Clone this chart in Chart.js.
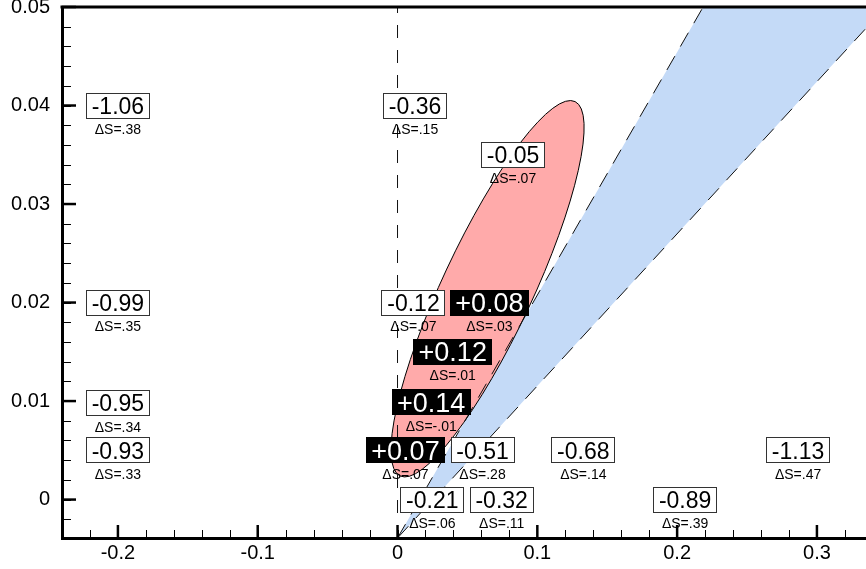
<!DOCTYPE html>
<html>
<head>
<meta charset="utf-8">
<script src="https://cdn.jsdelivr.net/npm/chart.js@4/dist/chart.umd.min.js"></script>
<style>
  html, body { margin: 0; padding: 0; background: #fff; }
  #wrap { width: 866px; height: 569px; }
</style>
</head>
<body>
<div id="wrap"><canvas id="c" width="866" height="569"></canvas></div>
<script>
// Axis ticks
const xTickValues = [-0.2, -0.1, 0, 0.1, 0.2, 0.3];
const xTickLabels = ['-0.2', '-0.1', '0', '0.1', '0.2', '0.3'];
const yTickValues = [0, 0.01, 0.02, 0.03, 0.04, 0.05];
const yTickLabels = ['0', '0.01', '0.02', '0.03', '0.04', '0.05'];

// Labelled grid points: position, energy change and entropy change
const pointX = [-0.2, 0.0125, 0.0826, -0.2, 0.0114, 0.0657, 0.0395, 0.0241, -0.2, -0.2, 0.0057, 0.0608, 0.1329, 0.2865, 0.0249, 0.0745, 0.2057];
const pointY = [0.04, 0.04, 0.035, 0.02, 0.02, 0.02, 0.015, 0.0099, 0.0098, 0.005, 0.005, 0.005, 0.005, 0.005, 0, 0, 0];
const deltaE = [-1.06, -0.36, -0.05, -0.99, -0.12, 0.08, 0.12, 0.14, -0.95, -0.93, 0.07, -0.51, -0.68, -1.13, -0.21, -0.32, -0.89];
const deltaS = [0.38, 0.15, 0.07, 0.35, 0.07, 0.03, 0.01, -0.01, 0.34, 0.33, 0.07, 0.28, 0.14, 0.47, 0.06, 0.11, 0.39];

// Wedge boundaries (dashed) and the vertical reference line at x = 0
const wedgeLeft = [{ x: 0, y: -0.0039 }, { x: 0.2186, y: 0.05 }];
const wedgeRight = [{ x: 0, y: -0.0039 }, { x: 0.3491, y: 0.05 }];
const zeroLine = [{ x: 0, y: -0.0039 }, { x: 0, y: 0.05 }];

// Ellipse: centre and the ends of two conjugate semi-diameters
const ellipseCenter = { x: 0.0644, y: 0.0214 };
const ellipseMajorEnd = { x: 0.1270, y: 0.0404 };
const ellipseMinorEnd = { x: 0.0936, y: 0.0194 };

const FONT = '"Liberation Sans", Arial, Helvetica, sans-serif';

const fmtE = v => (v > 0 ? '+' : '') + v.toFixed(2);
const fmtS = v => v.toFixed(2).replace('0.', '.');

// Filled regions: blue wedge and red ellipse
const regionFill = {
  id: 'regionFill',
  beforeDatasetsDraw(chart) {
    const { ctx, chartArea: a, scales: { x, y } } = chart;
    ctx.save();
    ctx.beginPath();
    ctx.rect(a.left, a.top, a.right - a.left, a.bottom - a.top);
    ctx.clip();

    const L = chart.getDatasetMeta(2).data;
    const R = chart.getDatasetMeta(3).data;
    ctx.beginPath();
    L.forEach((p, i) => (i ? ctx.lineTo(p.x, p.y) : ctx.moveTo(p.x, p.y)));
    R.slice().reverse().forEach(p => ctx.lineTo(p.x, p.y));
    ctx.closePath();
    ctx.fillStyle = '#c4daf7';
    ctx.fill();

    const cx = x.getPixelForValue(ellipseCenter.x), cy = y.getPixelForValue(ellipseCenter.y);
    const ux = x.getPixelForValue(ellipseMajorEnd.x) - cx, uy = y.getPixelForValue(ellipseMajorEnd.y) - cy;
    const vx = x.getPixelForValue(ellipseMinorEnd.x) - cx, vy = y.getPixelForValue(ellipseMinorEnd.y) - cy;
    ctx.save();
    ctx.beginPath();
    ctx.transform(ux, uy, vx, vy, cx, cy);
    ctx.arc(0, 0, 1, 0, Math.PI * 2);
    ctx.restore();
    ctx.fillStyle = '#ffaaaa';
    ctx.fill();
    ctx.lineWidth = 1;
    ctx.strokeStyle = '#000';
    ctx.stroke();
    ctx.restore();
  }
};

// Inward tick marks and the top frame line
const frame = {
  id: 'frame',
  afterDraw(chart) {
    const { ctx, chartArea: a, scales: { x, y } } = chart;
    ctx.save();
    ctx.strokeStyle = '#000';
    const xStep = (xTickValues[1] - xTickValues[0]) / 5;
    const yStep = (yTickValues[1] - yTickValues[0]) / 5;
    ctx.lineWidth = 1;
    for (let k = Math.ceil(x.min / xStep - 1e-6); k * xStep <= x.max; k++) {
      const px = Math.round(x.getPixelForValue(k * xStep)) + 0.5;
      ctx.beginPath(); ctx.moveTo(px, a.bottom); ctx.lineTo(px, a.bottom - 8); ctx.stroke();
    }
    for (let k = Math.ceil(y.min / yStep - 1e-6); k * yStep <= y.max + 1e-9; k++) {
      const py = Math.round(y.getPixelForValue(k * yStep)) + 0.5;
      ctx.beginPath(); ctx.moveTo(a.left, py); ctx.lineTo(a.left + 9, py); ctx.stroke();
    }
    ctx.lineWidth = 2.5;
    xTickValues.forEach(v => {
      const px = x.getPixelForValue(v);
      ctx.beginPath(); ctx.moveTo(px, a.bottom); ctx.lineTo(px, a.bottom - 13); ctx.stroke();
    });
    yTickValues.forEach(v => {
      const py = y.getPixelForValue(v);
      ctx.beginPath(); ctx.moveTo(a.left, py); ctx.lineTo(a.left + 14, py); ctx.stroke();
    });
    ctx.lineWidth = 3;
    ctx.beginPath(); ctx.moveTo(a.left - 1.5, a.top); ctx.lineTo(a.right, a.top); ctx.stroke();
    ctx.restore();
  }
};

// Boxed value labels with the entropy change underneath
const valueLabels = {
  id: 'valueLabels',
  afterDatasetsDraw(chart) {
    const ctx = chart.ctx;
    const meta = chart.getDatasetMeta(0);
    ctx.save();
    meta.data.forEach((pt, i) => {
      const v = deltaE[i];
      const pos = v > 0;
      const txt = fmtE(v);
      const size = pos ? 27 : 23;
      ctx.font = size + 'px ' + FONT;
      const w = ctx.measureText(txt).width;
      const pad = pos ? 5.5 : 6;
      const bw = Math.round(w + 2 * pad), bh = 26;
      const bx = Math.round(pt.x - bw / 2), by = Math.round(pt.y - bh / 2);
      if (pos) {
        ctx.fillStyle = '#000';
        ctx.fillRect(bx, by, bw, bh);
        ctx.fillStyle = '#fff';
      } else {
        ctx.fillStyle = '#fff';
        ctx.fillRect(bx, by, bw, bh);
        ctx.strokeStyle = '#333';
        ctx.lineWidth = 1;
        ctx.strokeRect(bx + 0.5, by + 0.5, bw - 1, bh - 1);
        ctx.fillStyle = '#000';
      }
      ctx.textAlign = 'center';
      ctx.textBaseline = 'alphabetic';
      ctx.fillText(txt, pt.x, pt.y + size * 0.716 / 2);
      ctx.font = '14px ' + FONT;
      ctx.fillStyle = '#000';
      ctx.fillText('\u0394S=' + fmtS(deltaS[i]), pt.x, pt.y + 28.5);
    });
    ctx.restore();
  }
};

const dashed = { showLine: true, pointRadius: 0, borderColor: '#111', borderWidth: 1, fill: false };

new Chart(document.getElementById('c'), {
  type: 'scatter',
  data: {
    datasets: [
      { label: 'points', data: pointX.map((v, i) => ({ x: v, y: pointY[i] })), pointRadius: 0, showLine: false },
      Object.assign({ label: 'x=0', data: zeroLine, borderDash: [13, 12] }, dashed),
      Object.assign({ label: 'left', data: wedgeLeft, borderDash: [16, 11] }, dashed),
      Object.assign({ label: 'right', data: wedgeRight, borderDash: [16, 11] }, dashed)
    ]
  },
  options: {
    responsive: false,
    devicePixelRatio: 1,
    animation: false,
    layout: { padding: { top: 7, right: 0, bottom: 0, left: 0 } },
    plugins: { legend: { display: false }, tooltip: { enabled: false } },
    events: [],
    scales: {
      x: {
        type: 'linear', min: -0.24, max: 0.3351,
        grid: { display: false, drawTicks: false },
        border: { display: true, width: 3, color: '#000' },
        ticks: {
          color: '#000', font: { family: FONT, size: 20 }, padding: 3, maxRotation: 0,
          callback: (v, i) => xTickLabels[i]
        },
        afterBuildTicks: s => { s.ticks = xTickValues.map(v => ({ value: v })); },
        afterFit: s => { s.height = 31; s.paddingLeft = 0; s.paddingRight = 0; }
      },
      y: {
        type: 'linear', min: -0.0039, max: 0.05,
        grid: { display: false, drawTicks: false },
        border: { display: true, width: 3, color: '#000' },
        ticks: {
          color: '#000', font: { family: FONT, size: 20 }, padding: 12,
          callback: (v, i) => yTickLabels[i]
        },
        afterBuildTicks: s => { s.ticks = yTickValues.map(v => ({ value: v })); },
        afterFit: s => { s.width = 62; s.paddingTop = 0; s.paddingBottom = 0; }
      }
    }
  },
  plugins: [regionFill, valueLabels, frame]
});
</script>
</body>
</html>
